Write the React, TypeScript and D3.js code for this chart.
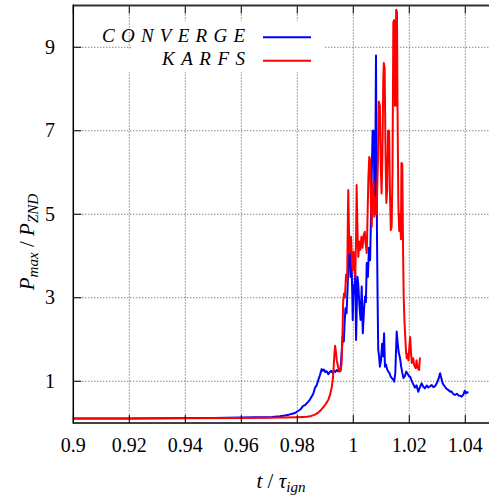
import React from 'react';
import * as d3 from 'd3';

// Axis ticks
const xTicks = [0.9, 0.92, 0.94, 0.96, 0.98, 1.0, 1.02, 1.04];
const xTickLabels = ['0.9', '0.92', '0.94', '0.96', '0.98', '1', '1.02', '1.04'];
const yTicks = [1, 3, 5, 7, 9];

// CONVERGE: normalised time and max pressure
const convergeT = [
  0.9, 0.91, 0.92, 0.93, 0.94, 0.95, 0.955, 0.96, 0.965, 0.968, 0.971, 0.9738, 0.9755, 0.977, 0.9792,
  0.9805, 0.9812, 0.9821, 0.9828, 0.9838, 0.9845, 0.9851, 0.9857, 0.9863, 0.9869, 0.9875, 0.9881, 0.9887,
  0.9891, 0.9895, 0.99, 0.9905, 0.9911, 0.9916, 0.9921, 0.9926, 0.9931, 0.9936, 0.9941, 0.9946, 0.995,
  0.9954, 0.9958, 0.9962, 0.9966, 0.9969, 0.9972, 0.9976, 0.998, 0.9983, 0.9985, 0.9988, 0.999, 0.9993,
  0.9996, 0.9998, 1.0001, 1.0004, 1.0007, 1.001, 1.0013, 1.0015, 1.0018, 1.0022, 1.0026, 1.003, 1.0034,
  1.0039, 1.0042, 1.0045, 1.0048, 1.0052, 1.0056, 1.006, 1.0063, 1.0066, 1.0069, 1.0073, 1.0076, 1.0079,
  1.0081, 1.0083, 1.0085, 1.0087, 1.0089, 1.0092, 1.0095, 1.0099, 1.0103, 1.0106, 1.011, 1.0113, 1.0117,
  1.0121, 1.0125, 1.0129, 1.0133, 1.0137, 1.0142, 1.0146, 1.015, 1.0153, 1.0155, 1.0158, 1.0162, 1.0167,
  1.0171, 1.0175, 1.0179, 1.0184, 1.0189, 1.0194, 1.0199, 1.0203, 1.0208, 1.0214, 1.022, 1.0226, 1.0232,
  1.0238, 1.0244, 1.025, 1.0256, 1.0262, 1.0268, 1.0274, 1.028, 1.0286, 1.0292, 1.0298, 1.0304, 1.031,
  1.0315, 1.0319, 1.0326, 1.0334, 1.034, 1.0345, 1.035, 1.0356, 1.0363, 1.037, 1.0376, 1.0382, 1.0387,
  1.0393, 1.0398, 1.0402, 1.0406, 1.0411,
];
const convergeP = [
  0.11, 0.11, 0.11, 0.115, 0.12, 0.12, 0.125, 0.13, 0.135, 0.14, 0.145, 0.16, 0.18, 0.2, 0.24,
  0.3, 0.33, 0.41, 0.43, 0.5, 0.56, 0.63, 0.7, 0.84, 0.9, 1.03, 1.15, 1.29,
  1.25, 1.28, 1.22, 1.24, 1.17, 1.22, 1.25, 1.2, 1.26, 1.22, 1.27, 1.24, 1.3,
  1.25, 1.65, 2.07, 1.95, 2.4, 2.75, 2.63, 3.3, 3.9, 4.46, 4.2, 3.5, 4.1,
  3.2, 2.47, 3.3, 3.1, 3.6, 1.99, 3.0, 3.5, 3.3, 2.8, 2.47, 3.27, 2.15,
  2.79, 3.03, 2.9, 3.83, 3.5, 4.2, 3.9, 4.86, 6.0, 7.0, 7.0, 5.0, 6.5,
  8.8, 6.0, 4.2, 2.87, 1.75, 1.6, 1.35, 1.5, 1.9, 1.6, 2.15, 1.35, 1.4,
  1.28, 1.23, 1.2, 1.12, 1.08, 1.05, 0.99, 1.2, 1.8, 2.19, 1.95, 1.7, 1.55,
  1.35, 1.2, 1.08, 1.12, 1.23, 1.18, 1.12, 1.11, 1.02, 0.93, 0.85, 0.9, 0.75,
  0.86, 0.95, 0.87, 0.83, 0.9, 0.85, 0.88, 0.91, 0.86, 0.88, 0.95, 1.05, 1.19,
  1.06, 0.95, 0.88, 0.81, 0.79, 0.75, 0.76, 0.7, 0.67, 0.7, 0.66, 0.65, 0.63,
  0.68, 0.77, 0.71, 0.74, 0.72,
];

// KARFS: normalised time and max pressure
const karfsT = [
  0.9, 0.92, 0.94, 0.96, 0.97, 0.975, 0.98, 0.9835, 0.985, 0.9863, 0.9875, 0.9887, 0.9899, 0.9906,
  0.9911, 0.9917, 0.9923, 0.9927, 0.993, 0.9933, 0.9935, 0.9938, 0.9941, 0.9944, 0.9948, 0.9951, 0.9955,
  0.9958, 0.996, 0.9962, 0.9964, 0.9967, 0.997, 0.9974, 0.9978, 0.998, 0.9982, 0.9984, 0.9986, 0.9989,
  0.9992, 0.9995, 0.9998, 1.0001, 1.0004, 1.0007, 1.001, 1.0012, 1.0014, 1.0016, 1.0018, 1.0021, 1.0025,
  1.0029, 1.0033, 1.0037, 1.0041, 1.0044, 1.0048, 1.0051, 1.0054, 1.0057, 1.006, 1.0063, 1.0066, 1.0069,
  1.0072, 1.0075, 1.0078, 1.0081, 1.0085, 1.0088, 1.0091, 1.0095, 1.0098, 1.0101, 1.0104, 1.0107, 1.0109,
  1.0112, 1.0115, 1.0118, 1.0121, 1.0124, 1.0128, 1.0131, 1.0134, 1.0137, 1.014, 1.0143, 1.0146, 1.0149,
  1.0151, 1.0153, 1.0156, 1.0158, 1.0161, 1.0164, 1.0167, 1.017, 1.0172, 1.0175, 1.0178, 1.018, 1.0183,
  1.0186, 1.0188, 1.0191, 1.0194, 1.0197, 1.02, 1.0203, 1.0206, 1.0209, 1.0212, 1.0214, 1.0217, 1.022,
  1.0223, 1.0226, 1.0229, 1.0232, 1.0235, 1.0238,
];
const karfsP = [
  0.11, 0.11, 0.115, 0.12, 0.125, 0.13, 0.14, 0.15, 0.17, 0.2, 0.25, 0.33, 0.43, 0.5,
  0.56, 0.68, 0.86, 1.05, 1.35, 1.7, 1.85, 1.7, 1.5, 1.4, 1.28, 1.23, 1.27,
  1.4, 1.8, 2.3, 2.95, 3.1, 3.0, 3.55, 3.4, 4.6, 5.58, 4.8, 4.07, 4.3,
  4.46, 3.9, 3.66, 4.1, 3.7, 3.5, 4.5, 5.7, 4.9, 4.3, 3.98, 4.35, 4.15,
  4.46, 4.2, 4.5, 4.58, 4.3, 4.07, 5.0, 5.9, 6.37, 6.3, 5.2, 4.7, 5.6,
  5.8, 4.94, 5.4, 5.0, 5.5, 6.3, 7.7, 7.6, 6.2, 5.5, 6.4, 8.2, 8.62,
  8.5, 6.5, 5.27, 5.6, 7.0, 7.0, 5.5, 4.62, 4.7, 6.0, 9.6, 9.65, 7.6,
  7.6, 9.9, 9.85, 7.5, 5.2, 4.6, 5.0, 4.4, 6.23, 6.2, 4.0, 3.0, 2.4,
  2.0, 1.75, 1.55, 1.65, 1.5, 1.8, 2.06, 1.7, 1.44, 1.5, 1.55, 1.4, 1.35,
  1.31, 1.5, 1.35, 1.3, 1.27, 1.57,
];

const W = 489;
const H = 500;
const left = 73.3;
const top = 5.5;
const bottom = 423;
const right = left + 2800 * 0.15;

const x = d3.scaleLinear().domain([0.9, 1.05]).range([left, right]);
const y = d3.scaleLinear().domain([0, 10]).range([bottom, top]);

const seriesLine = d3
  .line<[number, number]>()
  .x((d) => x(d[0]))
  .y((d) => y(d[1]));

function pathFor(ts: number[], ps: number[]): string {
  return seriesLine(ts.map((t, i) => [t, ps[i]] as [number, number])) || '';
}

// Text is laid out at a fixed base size and scaled to the wanted size.
const BASE = 24;
const upright: React.CSSProperties = { fontFamily: '"Liberation Serif"' };
const italic: React.CSSProperties = { fontFamily: '"Liberation Serif"', fontStyle: 'italic' };

type LabelProps = {
  x: number;
  y: number;
  size: number;
  anchor?: 'start' | 'middle' | 'end';
  rotate?: number;
  italicText?: boolean;
  textLength?: number;
  children: React.ReactNode;
};

function Label({ x: lx, y: ly, size, anchor = 'start', rotate = 0, italicText, textLength, children }: LabelProps) {
  const s = size / BASE;
  return (
    <text
      transform={`translate(${lx},${ly}) rotate(${rotate}) scale(${s})`}
      fontSize={BASE}
      textAnchor={anchor}
      style={italicText ? italic : upright}
      textLength={textLength !== undefined ? textLength / s : undefined}
      lengthAdjust={textLength !== undefined ? 'spacing' : undefined}
    >
      {children}
    </text>
  );
}

const gridColor = '#4a4a4a';
const tickLen = 8;

export default function App() {
  return (
    <div style={{ position: 'absolute', left: 0, top: 0 }}>
      <svg width={W} height={H} style={{ display: 'block', background: '#fff' }}>
        <defs>
          <clipPath id="plot-area">
            <rect x={left} y={top} width={W - left} height={bottom - top} />
          </clipPath>
        </defs>

        {/* grid */}
        <g stroke={gridColor} strokeWidth={1} strokeDasharray="1,2">
          {xTicks.slice(1).map((t) => (
            <line key={'gx' + t} x1={x(t)} x2={x(t)} y1={top} y2={bottom} />
          ))}
          {yTicks.map((p) => (
            <line key={'gy' + p} x1={left} x2={W} y1={y(p)} y2={y(p)} />
          ))}
        </g>

        {/* legend background */}
        <rect x={131} y={21} width={194} height={51} fill="#fff" />
        <rect x={96} y={48.5} width={36} height={23.5} fill="#fff" />

        {/* series */}
        <g clipPath="url(#plot-area)" fill="none" strokeWidth={2} strokeLinejoin="round">
          <path d={pathFor(convergeT, convergeP)} stroke="#0000ff" />
          <path d={pathFor(karfsT, karfsP)} stroke="#ff0000" />
        </g>

        {/* ticks */}
        <g stroke="#000" strokeWidth={1}>
          {xTicks.map((t) => (
            <React.Fragment key={'tx' + t}>
              <line x1={x(t)} x2={x(t)} y1={bottom} y2={bottom - tickLen} />
              <line x1={x(t)} x2={x(t)} y1={top} y2={top + tickLen} />
            </React.Fragment>
          ))}
          {yTicks.map((p) => (
            <line key={'ty' + p} x1={left} x2={left + tickLen} y1={y(p)} y2={y(p)} />
          ))}
        </g>

        {/* frame */}
        <line x1={left} x2={W} y1={top} y2={top} stroke="#333" strokeWidth={2} />
        <line x1={left} x2={W} y1={bottom} y2={bottom} stroke="#000" strokeWidth={1.5} />
        <line x1={left} x2={left} y1={top - 1} y2={bottom + 0.75} stroke="#000" strokeWidth={1.5} />

        {/* tick labels */}
        {xTicks.map((t, i) => (
          <Label key={'lx' + t} x={x(t)} y={451.5} size={20} anchor="middle">
            {xTickLabels[i]}
          </Label>
        ))}
        {yTicks.map((p) => (
          <Label key={'ly' + p} x={55} y={y(p) + 6.5} size={20} anchor="end">
            {String(p)}
          </Label>
        ))}

        {/* axis titles */}
        <Label x={281} y={488} size={21} anchor="middle">
          <tspan style={italic}>t</tspan>
          <tspan style={upright}> / </tspan>
          <tspan style={italic}>τ</tspan>
          <tspan style={italic} fontSize={BASE * 0.72} dy={5}>ign</tspan>
        </Label>
        <Label x={34} y={242} size={21} anchor="middle" rotate={-90}>
          <tspan style={italic}>P</tspan>
          <tspan style={italic} fontSize={BASE * 0.72} dy={5}>max</tspan>
          <tspan style={upright} dy={-5}> / </tspan>
          <tspan style={italic}>P</tspan>
          <tspan style={italic} fontSize={BASE * 0.72} dy={5}>ZND</tspan>
        </Label>

        {/* legend */}
        <Label x={245} y={42} size={19} anchor="end" italicText textLength={143}>
          CONVERGE
        </Label>
        <Label x={245} y={65} size={19} anchor="end" italicText textLength={83}>
          KARFS
        </Label>
        <line x1={263} x2={311} y1={37.3} y2={37.3} stroke="#0000ff" strokeWidth={2} />
        <line x1={263} x2={311} y1={60.7} y2={60.7} stroke="#ff0000" strokeWidth={2} />
      </svg>
    </div>
  );
}
